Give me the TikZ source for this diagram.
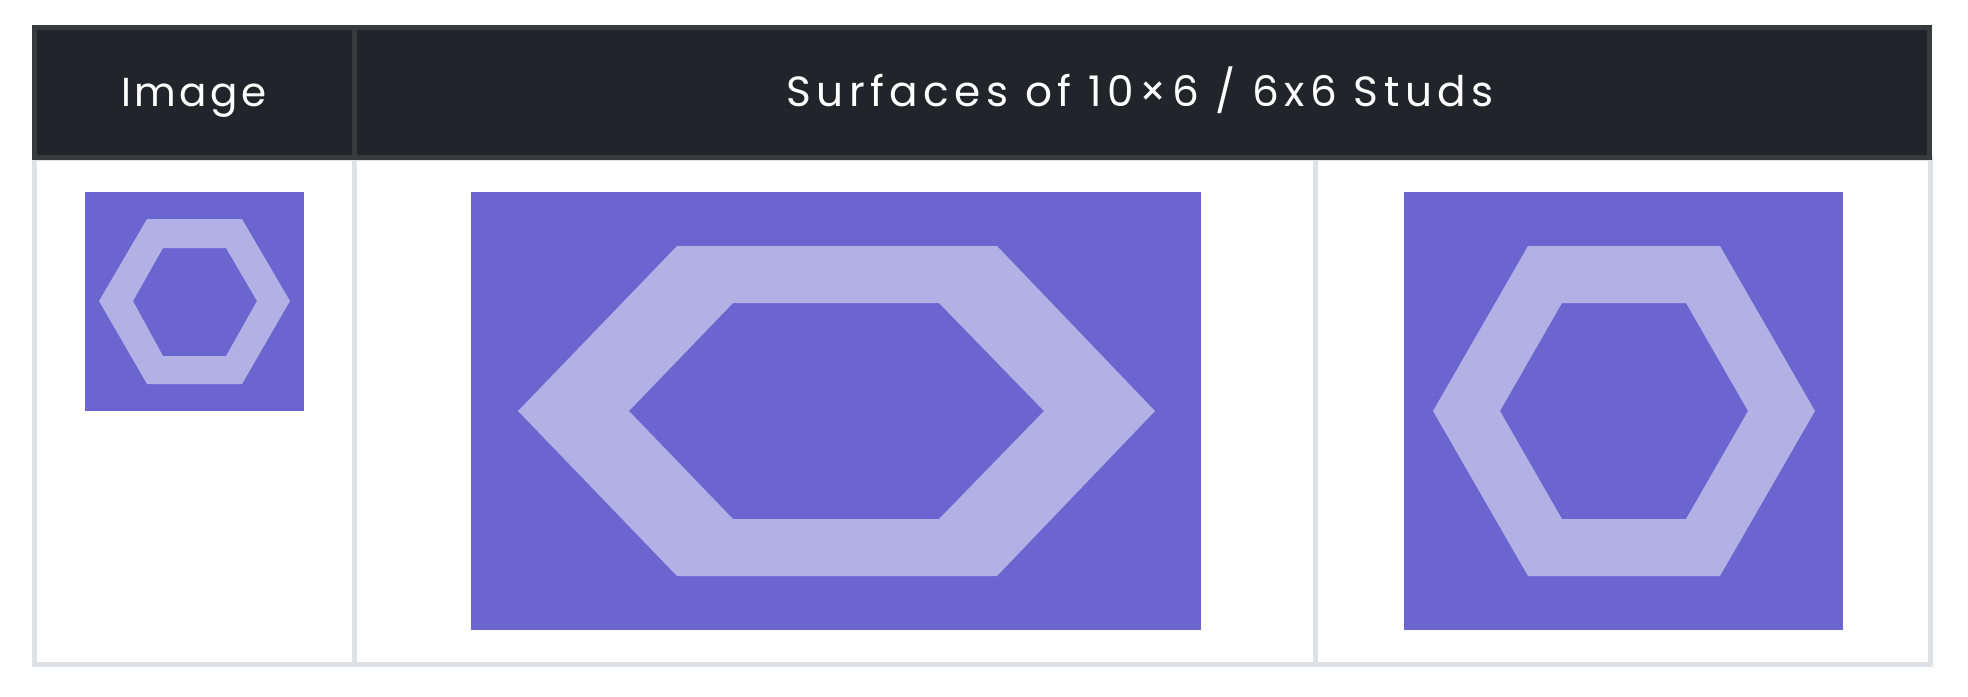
\documentclass[tikz,border=0pt]{standalone}
\usepackage{fontspec}
\setmainfont{Poppins}[LetterSpace=8]
\newfontfamily\widefont{Poppins}[LetterSpace=13]
\definecolor{headbg}{HTML}{212529}
\definecolor{headline}{HTML}{373B3E}
\definecolor{gridline}{HTML}{DEE2E6}
\definecolor{studblue}{HTML}{6A65CF}
\definecolor{studlight}{HTML}{B3B0E5}

\begin{document}
\begin{tikzpicture}[x=0.01cm,y=-0.01cm,
  head/.style={text=white,anchor=base,inner sep=0pt,font=\fontsize{11.5}{14}\selectfont},
  tile/.style={fill=studblue},
  ring/.style={fill=studlight,even odd rule},
  rule/.style={line width=0.05cm}]

\useasboundingbox (0,0) rectangle (1968,696);

% table body
\draw[rule,gridline] (34.5,158) rectangle (1930,664.5);
\draw[rule,gridline] (354.5,158) -- (354.5,664.5);
\draw[rule,gridline] (1315.5,158) -- (1315.5,664.5);

% header row
\fill[headbg] (32,25) rectangle (1932,160);
\draw[rule,headline] (34.5,27.5) rectangle (1929.5,157.5);
\draw[rule,headline] (354.5,27.5) -- (354.5,157.5);

\node[head] (image) at (194,106.5) {Image};
\node[head,font=\fontsize{12}{14}\selectfont] (surfaces) at (1140,106.5) {\widefont Surfaces of 10×6 / 6x6 Studs};

% small picture
\fill[tile] (85,192) rectangle (304,411);
\fill[ring] (147,219) -- (242,219) -- (290,301) -- (242,384) -- (147,384) -- (99,301) -- cycle
  (163,248) -- (226,248) -- (257,301) -- (226,356) -- (163,356) -- (133,301) -- cycle;

% 10x6 surface
\fill[tile] (471,192) rectangle (1201,630);
\fill[ring] (677,246) -- (997,246) -- (1155,411) -- (997,576) -- (677,576) -- (518,411) -- cycle
  (733,303) -- (939,303) -- (1044,411) -- (939,519) -- (733,519) -- (629,411) -- cycle;

% 6x6 surface
\fill[tile] (1404,192) rectangle (1843,630);
\fill[ring] (1528,246) -- (1720,246) -- (1815,411) -- (1720,576) -- (1528,576) -- (1433,411) -- cycle
  (1562,303) -- (1686,303) -- (1748,411) -- (1686,519) -- (1562,519) -- (1500,411) -- cycle;

\end{tikzpicture}
\end{document}
